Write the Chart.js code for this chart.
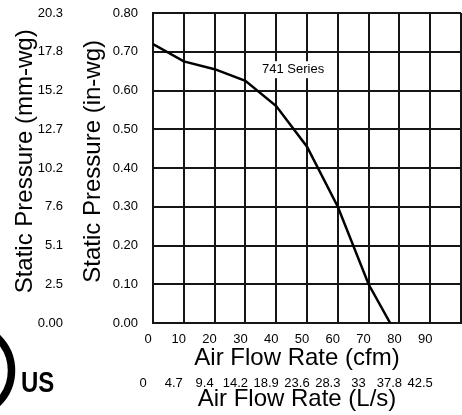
<!DOCTYPE html>
<html>
<head>
<meta charset="utf-8">
<script src="https://cdn.jsdelivr.net/npm/chart.js@4.4.1/dist/chart.umd.min.js"></script>
<style>
  html, body { margin: 0; padding: 0; background: #fff; }
  #wrap { width: 462px; height: 415px; }
</style>
</head>
<body>
<div id="wrap"><canvas id="fanChart" width="462" height="415"></canvas></div>
<script>
// curve
const flowCfm = [0, 10, 20, 30, 40, 50, 60, 70, 77];
const pressureInwg = [0.72, 0.675, 0.655, 0.625, 0.56, 0.455, 0.30, 0.10, 0];

// tick labels
const cfmLabels = ['0', '10', '20', '30', '40', '50', '60', '70', '80', '90'];
const lsLabels = ['0', '4.7', '9.4', '14.2', '18.9', '23.6', '28.3', '33', '37.8', '42.5'];
const inwgLabels = ['0.00', '0.10', '0.20', '0.30', '0.40', '0.50', '0.60', '0.70', '0.80'];
const mmLabels = ['0.00', '2.5', '5.1', '7.6', '10.2', '12.7', '15.2', '17.8', '20.3'];

const seriesName = '741 Series';
const seriesLabelAt = { x: 45.5, y: 0.655 }; // where the series name sits, in data units

Chart.defaults.font.family = "'Liberation Sans', Arial, sans-serif";
Chart.defaults.color = '#000';

const gridColor = '#151515';
const tickFont = { size: 13 };
const titleFont = { size: 24 };

// keep tick labels from pushing the plot area around
const noOverflow = s => { s.paddingLeft = 0; s.paddingRight = 0; s.paddingTop = 0; s.paddingBottom = 0; };

// series name in a white box, plus the listing mark at the bottom left
const extras = {
  id: 'extras',
  afterDatasetsDraw(chart) {
    const ctx = chart.ctx;
    const x = chart.scales.x.getPixelForValue(seriesLabelAt.x);
    const y = chart.scales.y.getPixelForValue(seriesLabelAt.y);
    ctx.save();
    ctx.font = "13px 'Liberation Sans', Arial, sans-serif";
    const w = ctx.measureText(seriesName).width;
    ctx.fillStyle = '#fff';
    ctx.fillRect(x - w / 2 - 5, y - 8, w + 10, 17);
    ctx.fillStyle = '#000';
    ctx.textAlign = 'center';
    ctx.textBaseline = 'middle';
    ctx.fillText(seriesName, x, y);
    ctx.restore();
  },
  afterDraw(chart) {
    const ctx = chart.ctx;
    ctx.save();
    ctx.strokeStyle = '#000';
    ctx.lineWidth = 7.5;
    ctx.beginPath();
    ctx.arc(-34, 370.5, 45.5, 0, Math.PI * 2);
    ctx.stroke();
    ctx.translate(21, 392);
    ctx.scale(0.8, 1);
    ctx.fillStyle = '#000';
    ctx.font = "bold 30px 'Liberation Sans Narrow', 'Liberation Sans', Arial, sans-serif";
    ctx.fillText('US', 0, 0);
    ctx.restore();
  }
};

new Chart(document.getElementById('fanChart'), {
  type: 'line',
  data: {
    datasets: [
      {
        label: seriesName,
        data: flowCfm.map((f, i) => ({ x: f, y: pressureInwg[i] })),
        borderColor: '#000',
        borderWidth: 2.5,
        pointRadius: 0,
        tension: 0,
        fill: false,
      },
    ],
  },
  options: {
    responsive: false,
    animation: false,
    layout: { padding: { top: 13, right: 1, bottom: 1, left: 0 } },
    plugins: { legend: { display: false }, tooltip: { enabled: false } },
    scales: {
      x: {
        type: 'linear',
        position: 'bottom',
        weight: 0,
        min: 0,
        max: 100,
        grid: { color: gridColor, lineWidth: 2, drawTicks: false },
        border: { color: gridColor, width: 2 },
        ticks: {
          stepSize: 10,
          autoSkip: false,
          maxRotation: 0,
          padding: 9,
          labelOffset: -5,
          font: tickFont,
          callback: (v, i) => cfmLabels[i] ?? '',
        },
        title: { display: true, text: 'Air Flow Rate (cfm)   ', font: titleFont, padding: 0 },
        afterFit: s => { s.height = 50; noOverflow(s); },
      },
      ls: {
        type: 'linear',
        position: 'bottom',
        weight: 1,
        min: 0,
        max: 100,
        grid: { display: false, drawTicks: false },
        border: { display: false },
        ticks: {
          stepSize: 10,
          autoSkip: false,
          maxRotation: 0,
          padding: 3,
          labelOffset: -10,
          font: tickFont,
          callback: (v, i) => lsLabels[i] ?? '',
        },
        title: { display: true, text: 'Air Flow Rate (L/s)   ', font: titleFont, padding: 0 },
        afterFit: s => { s.height = 41; noOverflow(s); },
      },
      y: {
        position: 'left',
        weight: 0,
        min: 0,
        max: 0.8,
        grid: { color: gridColor, lineWidth: 2, drawTicks: false },
        border: { color: gridColor, width: 2 },
        ticks: {
          stepSize: 0.1,
          padding: 15,
          font: tickFont,
          callback: (v, i) => inwgLabels[i] ?? '',
        },
        title: { display: true, text: '  Static Pressure (in-wg)', font: titleFont, padding: { top: 9, bottom: 0 } },
        afterFit: s => { s.width = 83; noOverflow(s); },
      },
      mm: {
        position: 'left',
        weight: 1,
        min: 0,
        max: 0.8,
        grid: { display: false, drawTicks: false },
        border: { display: false },
        ticks: {
          stepSize: 0.1,
          padding: 7,
          font: tickFont,
          callback: (v, i) => mmLabels[i] ?? '',
        },
        title: { display: true, text: '  Static Pressure (mm-wg)', font: titleFont, padding: { top: 11, bottom: 0 } },
        afterFit: s => { s.width = 70; noOverflow(s); },
      },
    },
  },
  plugins: [extras],
});
</script>
</body>
</html>
